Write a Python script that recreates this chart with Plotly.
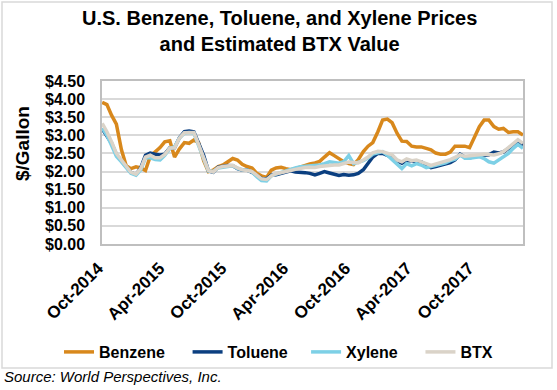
import pandas as pd
import plotly.graph_objects as go

# ~semi-monthly observations, Oct-2014 .. late Feb-2018
dates = pd.date_range("2014-10-01", "2018-02-26", periods=88).normalize()

benzene = [3.91, 3.85, 3.55, 3.31, 2.60, 2.16, 2.08, 2.13, 2.10, 2.03,
           2.42, 2.53, 2.66, 2.82, 2.85, 2.40, 2.62, 2.80, 2.78, 2.87,
           2.80, 2.30, 2.00, 2.04, 2.14, 2.18, 2.27, 2.36, 2.32, 2.20,
           2.14, 2.10, 1.95, 1.88, 1.84, 2.04, 2.10, 2.12, 2.08, 2.05,
           2.08, 2.13, 2.17, 2.21, 2.24, 2.28, 2.40, 2.52, 2.44, 2.35,
           2.27, 2.22, 2.19, 2.33, 2.55, 2.70, 2.80, 3.10, 3.42, 3.45,
           3.35, 3.05, 2.84, 2.83, 2.70, 2.68, 2.68, 2.64, 2.60, 2.51,
           2.48, 2.48, 2.54, 2.70, 2.69, 2.70, 2.66, 2.95, 3.24, 3.42,
           3.42, 3.24, 3.17, 3.19, 3.08, 3.10, 3.10, 3.01]

toluene = [3.18, 3.00, 2.78, 2.47, 2.30, 2.16, 1.97, 1.92, 2.10, 2.45,
           2.51, 2.48, 2.46, 2.48, 2.66, 2.66, 2.93, 3.10, 3.12, 3.10,
           2.80, 2.45, 2.02, 1.98, 2.12, 2.15, 2.17, 2.16, 2.08, 2.04,
           2.04, 1.98, 1.90, 1.81, 1.80, 1.90, 1.91, 1.94, 1.99, 2.02,
           1.99, 1.99, 1.97, 1.95, 1.91, 1.95, 2.00, 1.96, 1.92, 1.89,
           1.92, 1.90, 1.91, 1.95, 2.05, 2.22, 2.40, 2.50, 2.50, 2.45,
           2.38, 2.28, 2.23, 2.30, 2.30, 2.27, 2.27, 2.18, 2.11, 2.14,
           2.17, 2.22, 2.25, 2.32, 2.48, 2.40, 2.38, 2.41, 2.43, 2.43,
           2.46, 2.54, 2.51, 2.54, 2.64, 2.73, 2.82, 2.73]

xylene = [3.20, 3.00, 2.72, 2.42, 2.27, 2.12, 1.95, 1.90, 2.05, 2.38,
          2.38, 2.33, 2.32, 2.45, 2.64, 2.68, 2.92, 3.06, 3.08, 3.06,
          2.74, 2.35, 2.02, 2.00, 2.10, 2.12, 2.14, 2.16, 2.09, 2.05,
          2.04, 1.99, 1.86, 1.75, 1.74, 1.88, 1.93, 1.98, 2.02, 2.05,
          2.10, 2.13, 2.14, 2.14, 2.15, 2.18, 2.22, 2.27, 2.25, 2.23,
          2.27, 2.44, 2.22, 2.26, 2.30, 2.37, 2.48, 2.52, 2.55, 2.45,
          2.33, 2.18, 2.08, 2.22, 2.16, 2.22, 2.18, 2.11, 2.14, 2.16,
          2.20, 2.24, 2.30, 2.34, 2.46, 2.37, 2.37, 2.39, 2.41, 2.36,
          2.27, 2.23, 2.32, 2.41, 2.50, 2.64, 2.75, 2.64]

btx = [3.33, 3.10, 2.82, 2.50, 2.32, 2.16, 1.98, 1.93, 2.08, 2.40,
       2.45, 2.38, 2.38, 2.47, 2.65, 2.65, 2.92, 3.07, 3.07, 3.08,
       2.75, 2.35, 2.03, 1.99, 2.11, 2.14, 2.15, 2.17, 2.10, 2.05,
       2.03, 2.00, 1.90, 1.80, 1.78, 1.88, 1.94, 1.98, 2.01, 2.03,
       2.06, 2.09, 2.11, 2.12, 2.11, 2.14, 2.16, 2.17, 2.18, 2.18,
       2.21, 2.26, 2.25, 2.24, 2.32, 2.40, 2.52, 2.56, 2.55, 2.51,
       2.46, 2.32, 2.27, 2.35, 2.30, 2.32, 2.28, 2.22, 2.17, 2.21,
       2.25, 2.27, 2.33, 2.39, 2.46, 2.42, 2.44, 2.46, 2.48, 2.48,
       2.47, 2.46, 2.49, 2.55, 2.66, 2.78, 2.88, 2.78]

tick_dates = ["2014-10-01", "2015-04-01", "2015-10-01", "2016-04-01",
              "2016-10-01", "2017-04-01", "2017-10-01"]
tick_labels = ["Oct-2014", "Apr-2015", "Oct-2015", "Apr-2016",
               "Oct-2016", "Apr-2017", "Oct-2017"]
y_ticks = [0, 0.5, 1.0, 1.5, 2.0, 2.5, 3.0, 3.5, 4.0, 4.5]

FONT = "Liberation Sans, Arial, sans-serif"
NB = "\u00a0"

series = [
    ("Benzene", benzene, "#D8881C", 4),
    ("Toluene", toluene, "#0B3F80", 3),
    ("Xylene", xylene, "#7DD0E6", 4),
    ("BTX", btx, "#DAD3C8", 0),
]

fig = go.Figure()
for name, vals, col, pad in series:
    fig.add_trace(go.Scatter(x=dates, y=vals, name=f"<b>{name}</b>" + NB * pad,
                             mode="lines", line=dict(color=col, width=3.5),
                             hoverinfo="skip"))

W, H = 557, 390
L, R, T, B = 102, 34, 81, 146
pw, ph = W - L - R, H - T - B

def px(xp):
    return (xp - L) / pw

def py(yp):
    return (H - B - yp) / ph

fig.update_layout(
    width=W, height=H,
    margin=dict(l=L, r=R, t=T, b=B),
    paper_bgcolor="white", plot_bgcolor="white",
    font=dict(family=FONT, color="black"),
    showlegend=True,
    legend=dict(orientation="h", x=px(59), xanchor="left", y=py(352), yanchor="middle",
                font=dict(size=16, family=FONT, color="black"),
                itemwidth=30, tracegroupgap=0, bgcolor="rgba(0,0,0,0)"),
    hovermode=False,
)

fig.update_xaxes(
    type="date",
    range=["2014-09-30 12:00", dates[-1]],
    tickvals=tick_dates, ticktext=[f"<b>{t}</b>" for t in tick_labels],
    tickangle=-45, tickfont=dict(size=17, family=FONT, color="black"),
    showgrid=False, zeroline=False,
    showline=True, linecolor="#BFBFBF", linewidth=1.5, mirror=True,
    ticks="", ticklabelstandoff=6, ticklabelshift=-4,
)
fig.update_yaxes(
    range=[0, 4.5], tickvals=y_ticks,
    ticktext=[f"<b>${v:.2f}</b>" for v in y_ticks],
    tickfont=dict(size=16, family=FONT, color="black"),
    showgrid=True, gridcolor="#D9D9D9", gridwidth=1.5,
    zeroline=False,
    showline=True, linecolor="#BFBFBF", linewidth=1.5, mirror=True,
    ticks="", ticklabelstandoff=12,
)

fig.add_annotation(text="<b>U.S. Benzene, Toluene, and Xylene Prices<br>and Estimated BTX Value</b>",
                   x=px(279.5), y=py(31), xref="paper", yref="paper",
                   xanchor="center", yanchor="middle", showarrow=False,
                   font=dict(size=20, family=FONT, color="black"))

fig.add_annotation(text="<b>$/Gallon</b>", textangle=-90,
                   x=px(22), y=py(144), xref="paper", yref="paper",
                   xanchor="center", yanchor="middle", showarrow=False,
                   font=dict(size=19, family=FONT, color="black"))

fig.add_annotation(text="<i>Source: World Perspectives, Inc.</i>",
                   x=px(2), y=py(376), xref="paper", yref="paper",
                   xanchor="left", yanchor="middle", showarrow=False,
                   font=dict(size=15, family=FONT, color="black"))

fig.add_shape(type="rect", xref="paper", yref="paper",
              x0=px(2), x1=px(552), y0=py(368), y1=py(2),
              line=dict(color="#D9D9D9", width=1.5), fillcolor="rgba(0,0,0,0)",
              layer="below")

fig.write_html("out.html", config={"displayModeBar": False},
               post_script="document.body.style.margin='0';document.body.style.overflow='hidden';")
